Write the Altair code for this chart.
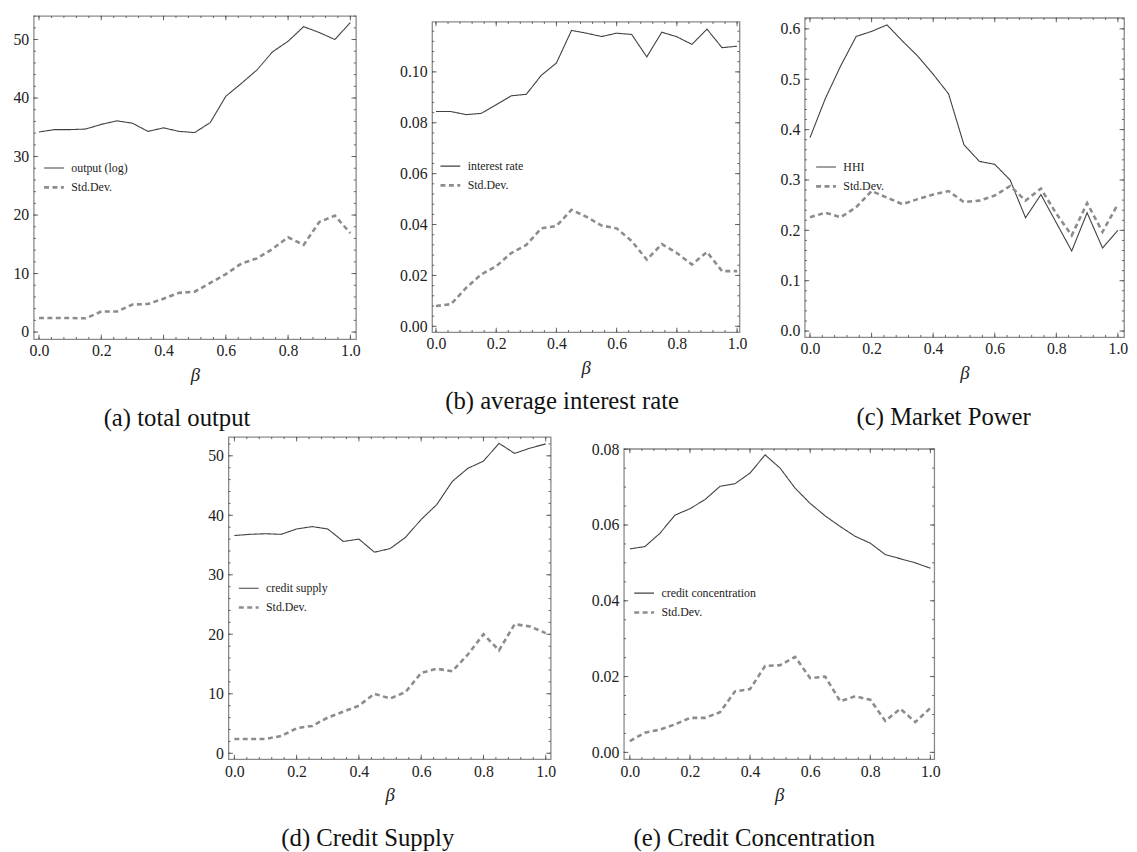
import altair as alt
import pandas as pd

# ---------------- data ----------------
beta = [0.00, 0.05, 0.10, 0.15, 0.20, 0.25, 0.30, 0.35, 0.40, 0.45, 0.50,
        0.55, 0.60, 0.65, 0.70, 0.75, 0.80, 0.85, 0.90, 0.95, 1.00]

output_log = [34.2, 34.6, 34.6, 34.7, 35.5, 36.1, 35.7, 34.3, 34.9, 34.3, 34.1,
              35.8, 40.3, 42.5, 44.8, 47.9, 49.7, 52.2, 51.2, 50.0, 52.9]
output_sd = [2.4, 2.4, 2.4, 2.35, 3.5, 3.5, 4.7, 4.8, 5.7, 6.7, 6.9,
             8.4, 9.9, 11.7, 12.6, 14.2, 16.2, 14.9, 18.8, 19.9, 16.9]

interest = [0.0844, 0.0844, 0.0832, 0.0837, 0.0871, 0.0906, 0.0912, 0.0987, 0.1035, 0.1163, 0.1152,
            0.1139, 0.1152, 0.1147, 0.1059, 0.1156, 0.1138, 0.1108, 0.1168, 0.1095, 0.1101]
interest_sd = [0.0080, 0.0087, 0.0151, 0.0204, 0.0236, 0.0288, 0.0320, 0.0385, 0.0394, 0.0458, 0.0430,
               0.0396, 0.0385, 0.0335, 0.0262, 0.0323, 0.0288, 0.0243, 0.0292, 0.0217, 0.0217]

hhi = [0.384, 0.462, 0.527, 0.585, 0.595, 0.608, 0.576, 0.546, 0.510, 0.471, 0.370,
       0.337, 0.331, 0.300, 0.225, 0.271, 0.215, 0.159, 0.235, 0.165, 0.200]
hhi_sd = [0.226, 0.235, 0.226, 0.246, 0.278, 0.265, 0.252, 0.262, 0.271, 0.278, 0.256,
          0.259, 0.269, 0.288, 0.259, 0.283, 0.233, 0.190, 0.254, 0.197, 0.252]

credit = [36.6, 36.8, 36.9, 36.8, 37.7, 38.1, 37.7, 35.6, 36.0, 33.8, 34.4,
          36.3, 39.3, 41.8, 45.7, 47.9, 49.1, 52.1, 50.4, 51.3, 52.0]
credit_sd = [2.4, 2.4, 2.4, 2.9, 4.2, 4.6, 6.0, 7.0, 8.0, 10.0, 9.2,
             10.3, 13.5, 14.2, 13.8, 16.6, 20.0, 17.3, 21.7, 21.3, 20.2]

concentration = [0.0537, 0.0543, 0.0578, 0.0626, 0.0643, 0.0667, 0.0702, 0.0709, 0.0737, 0.0785, 0.0750,
                 0.0697, 0.0657, 0.0624, 0.0596, 0.0570, 0.0552, 0.0522, 0.0511, 0.0500, 0.0486]
concentration_sd = [0.0030, 0.0052, 0.0060, 0.0074, 0.0091, 0.0091, 0.0106, 0.0161, 0.0167, 0.0228, 0.0230,
                    0.0252, 0.0196, 0.0200, 0.0135, 0.0148, 0.0139, 0.0083, 0.0115, 0.0080, 0.0117]

x_major = [0.0, 0.2, 0.4, 0.6, 0.8, 1.0]
x_minor = [round(i * 0.04, 2) for i in range(26)]

FONT = "Liberation Serif"
TICK = "#555555"
FRAME = "#8a8a8a"


def spacer(w, h):
    return alt.Chart(pd.DataFrame({"s": [0]})).mark_point(opacity=0, size=0).encode(
        x=alt.value(0), y=alt.value(0)).properties(
        width=w, height=h,
        view=alt.ViewBackground(stroke="transparent", strokeWidth=0, fill="transparent"))


def ind(c):
    return c.resolve_scale(color="independent", strokeDash="independent",
                           strokeWidth="independent", x="independent", y="independent")


def panel(main_name, main_vals, sd_vals, xdom, ydom, y_major, y_step, yfmt,
          w, h, caption, cap_dx, cap_offset, lx, ly):
    df = pd.DataFrame({
        "beta": beta * 2,
        "value": main_vals + sd_vals,
        "series": [main_name] * len(beta) + ["Std.Dev."] * len(beta),
    })
    xs = alt.Scale(domain=xdom, nice=False, zero=False)
    ys = alt.Scale(domain=ydom, nice=False, zero=False)
    xax = alt.Axis(values=x_major, format=".1f", ticks=False, tickSize=0,
                   domain=False, grid=False, labelFont=FONT, labelFontSize=16,
                   labelColor="#222222", labelPadding=4, labelFlush=False,
                   title="β", titleFont=FONT, titleFontStyle="italic",
                   titleFontWeight="normal", titleFontSize=19,
                   titleColor="#222222", titlePadding=7)
    yax = alt.Axis(values=y_major, format=yfmt, ticks=False, tickSize=0,
                   domain=False, grid=False, labelFont=FONT, labelFontSize=16,
                   labelColor="#222222", labelPadding=5, title="")
    dom = [main_name, "Std.Dev."]
    leg = alt.Legend(orient="none", legendX=lx, legendY=ly, title=None,
                     labelFont=FONT, labelFontSize=12, labelColor="#222222",
                     symbolSize=400, rowPadding=2, labelOffset=6, padding=0)
    lines = alt.Chart(df).mark_line().encode(
        x=alt.X("beta:Q", scale=xs, axis=xax, title="β"),
        y=alt.Y("value:Q", scale=ys, axis=yax, title=""),
        color=alt.Color("series:N", scale=alt.Scale(domain=dom, range=["#404040", "#8c8c8c"]),
                        legend=leg),
        strokeDash=alt.StrokeDash("series:N", scale=alt.Scale(domain=dom, range=[[1, 0], [5, 3.5]]),
                                  legend=leg),
        strokeWidth=alt.StrokeWidth("series:N", scale=alt.Scale(domain=dom, range=[1.1, 2.6]),
                                    legend=leg),
    )

    # frame ticks pointing inward on all four sides
    xmin_t = pd.DataFrame({"beta": [v for v in x_minor if xdom[0] < v < xdom[1]]})
    xmaj_t = pd.DataFrame({"beta": x_major})
    n = int(round(ydom[1] / y_step)) + 1
    ymin_vals = [round(i * y_step, 6) for i in range(n) if ydom[0] < i * y_step < ydom[1]]
    ymin_t = pd.DataFrame({"value": ymin_vals})
    ymaj_t = pd.DataFrame({"value": y_major})

    layers = [lines]
    for d, L in ((xmin_t, 2.2), (xmaj_t, 4.5)):
        base = alt.Chart(d).mark_rule(color=TICK, strokeWidth=0.9)
        layers.append(base.encode(x=alt.X("beta:Q", scale=xs, axis=xax, title="β"),
                                  y=alt.value(h), y2=alt.value(h - L)))
        layers.append(base.encode(x=alt.X("beta:Q", scale=xs, axis=xax, title="β"),
                                  y=alt.value(0), y2=alt.value(L)))
    for d, L in ((ymin_t, 2.2), (ymaj_t, 4.5)):
        base = alt.Chart(d).mark_rule(color=TICK, strokeWidth=0.9)
        layers.append(base.encode(y=alt.Y("value:Q", scale=ys, axis=yax, title=""),
                                  x=alt.value(0), x2=alt.value(L)))
        layers.append(base.encode(y=alt.Y("value:Q", scale=ys, axis=yax, title=""),
                                  x=alt.value(w), x2=alt.value(w - L)))

    return alt.layer(*layers).properties(
        width=w, height=h,
        view=alt.ViewBackground(stroke=FRAME, strokeWidth=1.3),
        title=alt.TitleParams(text=caption, orient="bottom", anchor="middle", frame="group",
                              dx=cap_dx, offset=cap_offset, font=FONT, fontSize=25,
                              fontWeight="normal", color="#111111"),
    )


pa = panel("output (log)", output_log, output_sd, [-0.017, 1.018], [-1.2, 54.05],
           [0, 10, 20, 30, 40, 50], 2, "d", 326, 327, "(a) total output", -18, 22, 9, 143)
pb = panel("interest rate", interest, interest_sd, [-0.013, 1.008], [-0.0023, 0.1197],
           [0.0, 0.02, 0.04, 0.06, 0.08, 0.10], 0.004, ".2f", 311, 314,
           "(b) average interest rate", -24, 12, 7, 135)
pc = panel("HHI", hhi, hhi_sd, [-0.017, 1.02], [-0.012, 0.622],
           [0.0, 0.1, 0.2, 0.3, 0.4, 0.5, 0.6], 0.02, ".1f", 323, 323,
           "(c) Market Power", -21, 23, 10, 140)
pd_ = panel("credit supply", credit, credit_sd, [-0.019, 1.016], [-1.0, 53.17],
            [0, 10, 20, 30, 40, 50], 2, "d", 326, 326, "(d) Credit Supply", -22, 22, 9, 142)
pe = panel("credit concentration", concentration, concentration_sd, [-0.02, 1.013],
           [-0.0018, 0.0801], [0.0, 0.02, 0.04, 0.06, 0.08], 0.005, ".2f", 314, 314,
           "(e) Credit Concentration", -25, 22, 9, 135)

colb = ind(alt.vconcat(spacer(1, 6), pb, spacing=0, bounds="flush"))
colc = ind(alt.vconcat(spacer(1, 2), pc, spacing=0, bounds="flush"))
cole = ind(alt.vconcat(spacer(1, 12), pe, spacing=0, bounds="flush"))

row1 = ind(alt.hconcat(pa, spacer(38, 1), colb, spacer(31, 1), colc, spacing=0))
row2 = ind(alt.hconcat(spacer(175, 1), pd_, spacer(34, 1), cole, spacing=0))

chart = ind(alt.vconcat(row1, row2, spacing=3,
                        padding={"left": 4, "top": 1, "right": 0, "bottom": 0}))
chart = chart.configure_view(stroke="transparent", strokeWidth=0).configure(background="white")

chart.save("out.html", embed_options={"renderer": "svg", "actions": False})
